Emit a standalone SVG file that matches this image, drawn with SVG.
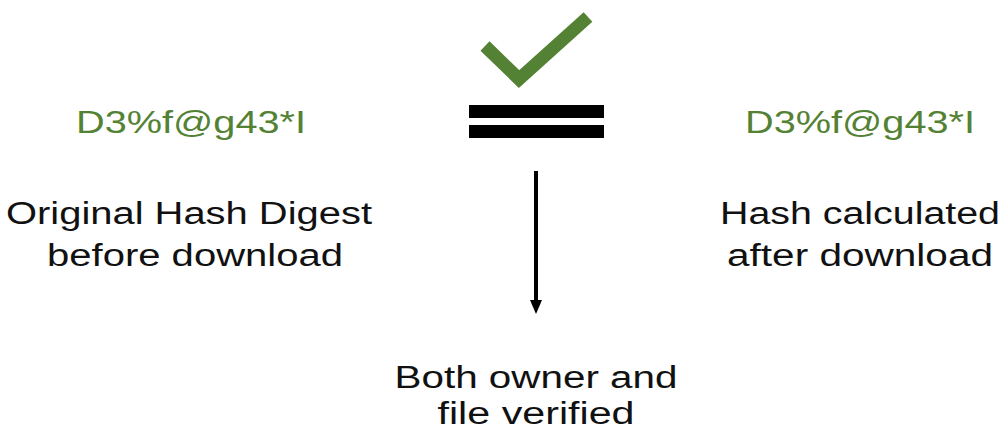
<svg xmlns="http://www.w3.org/2000/svg" width="1006" height="436" viewBox="0 0 1006 436">
  <defs>
    <style>
      .hash { font-family: "Liberation Sans", Arial, sans-serif; font-size: 31px; fill: #548235; text-anchor: middle; }
      .label { font-family: "Liberation Sans", Arial, sans-serif; font-size: 31px; fill: #111111; text-anchor: middle; }
    </style>
  </defs>
  <rect width="1006" height="436" fill="#ffffff"/>

  <g id="original-hash">
    <text class="hash" x="191" y="133" textLength="230" lengthAdjust="spacingAndGlyphs">D3%f@g43*I</text>
    <text class="label" x="189" y="224" textLength="366" lengthAdjust="spacingAndGlyphs">Original Hash Digest</text>
    <text class="label" x="195" y="266" textLength="296" lengthAdjust="spacingAndGlyphs">before download</text>
  </g>

  <g id="equals-check">
    <polyline points="485,46 519,79 588,17" fill="none" stroke="#548235" stroke-width="13"/>
    <rect x="469" y="105" width="135" height="13" fill="#000"/>
    <rect x="469" y="125" width="135" height="13" fill="#000"/>
  </g>

  <g id="calculated-hash">
    <text class="hash" x="860" y="133" textLength="230" lengthAdjust="spacingAndGlyphs">D3%f@g43*I</text>
    <text class="label" x="860" y="224" textLength="280" lengthAdjust="spacingAndGlyphs">Hash calculated</text>
    <text class="label" x="860" y="266" textLength="266" lengthAdjust="spacingAndGlyphs">after download</text>
  </g>

  <g id="verified">
    <text class="label" x="536" y="388" textLength="283" lengthAdjust="spacingAndGlyphs">Both owner and</text>
    <text class="label" x="536" y="424" textLength="197" lengthAdjust="spacingAndGlyphs">file verified</text>
  </g>

  <g id="connectors">
    <line x1="536" y1="171" x2="536" y2="302" stroke="#000" stroke-width="4"/>
    <path d="M530,300 L542,300 L536,314 Z" fill="#000"/>
  </g>
</svg>
